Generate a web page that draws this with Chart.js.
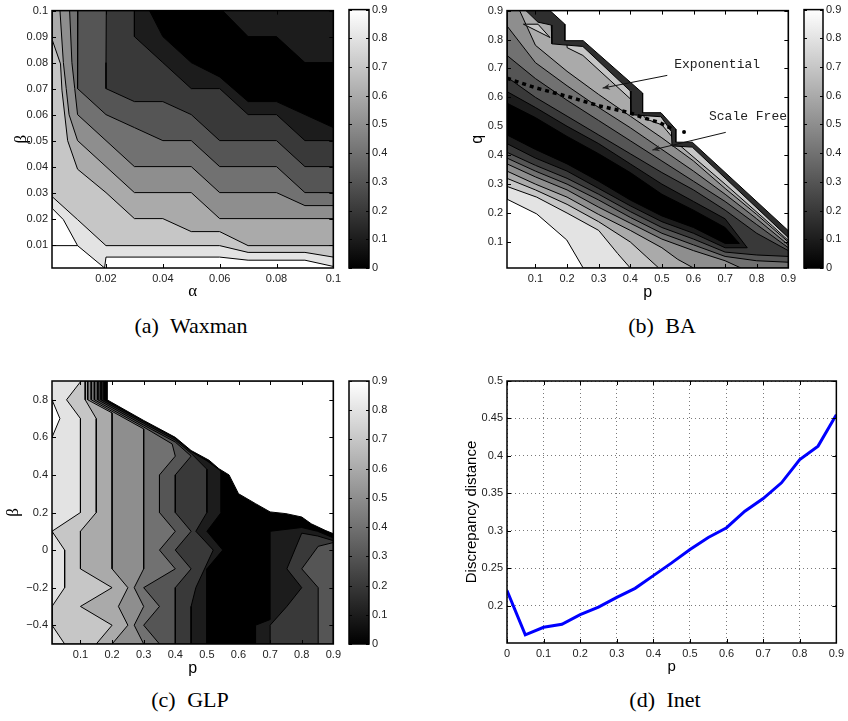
<!DOCTYPE html>
<html>
<head>
<meta charset="utf-8">
<title>Discrepancy contours</title>
<script src="https://cdn.jsdelivr.net/npm/chart.js@4.4.1/dist/chart.umd.min.js"></script>
<style>
body { margin: 0; background: #fff; }
#page { position: relative; width: 848px; height: 721px; overflow: hidden; background: #fff; }
canvas { position: absolute; }
.cap { position: absolute; font-family: "Liberation Serif", serif; font-size: 22px; color: #000; white-space: nowrap; transform: translate(-50%, -50%); word-spacing: 6px; }
</style>
</head>
<body>
<div id="page">
  <canvas id="wax" width="345" height="302" style="left:0px;top:0px"></canvas>
  <canvas id="waxBar" width="60" height="302" style="left:340px;top:0px"></canvas>
  <canvas id="ba" width="360" height="302" style="left:440px;top:0px"></canvas>
  <canvas id="baBar" width="60" height="302" style="left:795px;top:0px"></canvas>
  <canvas id="glp" width="345" height="308" style="left:0px;top:370px"></canvas>
  <canvas id="glpBar" width="60" height="308" style="left:340px;top:370px"></canvas>
  <canvas id="inet" width="408" height="306" style="left:440px;top:370px"></canvas>
  <div class="cap" style="left:191px;top:326px">(a) Waxman</div>
  <div class="cap" style="left:662px;top:326px">(b) BA</div>
  <div class="cap" style="left:190px;top:700px">(c) GLP</div>
  <div class="cap" style="left:665px;top:700px">(d) Inet</div>
</div>
<script>
// ---------- data ----------
var CBAR_TICKS = [0, 0.1, 0.2, 0.3, 0.4, 0.5, 0.6, 0.7, 0.8, 0.9];

// (a) Waxman : alpha / beta, contour lines (lightest first)
var WAX_X_TICKS = [0.02, 0.04, 0.06, 0.08, 0.1];
var WAX_Y_TICKS = [0.01, 0.02, 0.03, 0.04, 0.05, 0.06, 0.07, 0.08, 0.09, 0.1];
var wax_c09 = [[0.001,0.024],[0.005,0.0196],[0.01,0.0096],[0.0195,0.001],[0.02,0.0052],[0.06,0.0052],[0.07,0.004],[0.09,0.004],[0.1,0.0016]];
var wax_c08 = [[0.001,0.0285],[0.01,0.0196],[0.02,0.0096],[0.06,0.0096],[0.07,0.007],[0.09,0.007],[0.1,0.0052]];
var wax_c07 = [[0.001,0.089],[0.004,0.0795],[0.0045,0.0694],[0.0065,0.05],[0.01,0.039],[0.02,0.03],[0.03,0.02],[0.04,0.02],[0.05,0.015],[0.06,0.015],[0.07,0.0096],[0.1,0.0096]];
var wax_c06 = [[0.0038,0.1],[0.005,0.08],[0.006,0.07],[0.007,0.06],[0.01,0.05],[0.02,0.04],[0.03,0.03],[0.05,0.03],[0.06,0.02],[0.1,0.02]];
var wax_c05 = [[0.0072,0.1],[0.008,0.08],[0.009,0.07],[0.01,0.06],[0.02,0.05],[0.03,0.04],[0.05,0.04],[0.06,0.03],[0.08,0.03],[0.09,0.025],[0.1,0.025]];
var wax_c04 = [[0.0101,0.1],[0.01,0.08],[0.01,0.07],[0.02,0.06],[0.03,0.055],[0.04,0.05],[0.05,0.05],[0.06,0.04],[0.08,0.04],[0.09,0.03],[0.1,0.03]];
var wax_c03 = [[0.0201,0.1],[0.02,0.08],[0.02,0.07],[0.03,0.065],[0.04,0.065],[0.05,0.06],[0.06,0.05],[0.08,0.05],[0.09,0.04],[0.1,0.04]];
var wax_c02 = [[0.03,0.1],[0.03,0.09],[0.04,0.08],[0.05,0.07],[0.06,0.07],[0.07,0.06],[0.08,0.06],[0.09,0.05],[0.1,0.05]];
var wax_c01 = [[0.0353,0.1],[0.04,0.09],[0.05,0.08],[0.06,0.0745],[0.07,0.065],[0.08,0.065],[0.09,0.06],[0.1,0.055]];
var wax_c01b = [[0.061,0.1],[0.07,0.09],[0.08,0.09],[0.09,0.08],[0.1,0.08]];
var wax_step = [[0.001,0.0096],[0.01,0.0096]];
var WAX_LINES = [wax_c09, wax_c08, wax_c07, wax_c06, wax_c05, wax_c04, wax_c03, wax_c02, wax_c01, wax_c01b];
var WAX_FILL = [0.8, 0.7, 0.6, 0.5, 0.4, 0.3, 0.2, 0.1, 0, 0.1];

// (b) BA : p / q
var BA_TICKS = [0.1, 0.2, 0.3, 0.4, 0.5, 0.6, 0.7, 0.8, 0.9];
var ba_lo09 = [[0.01,0.248],[0.104,0.197],[0.199,0.107],[0.251,0.01]];
var ba_lo08 = [[0.01,0.292],[0.104,0.255],[0.2,0.2],[0.3,0.14],[0.36,0.06],[0.4,0.01]];
var ba_lo07 = [[0.01,0.32],[0.1,0.28],[0.2,0.23],[0.3,0.17],[0.4,0.1],[0.45,0.05],[0.49,0.01]];
var ba_up07 = [[0.2,0.772],[0.25,0.745],[0.4,0.595],[0.45,0.525],[0.5,0.505],[0.55,0.44],[0.7,0.3],[0.85,0.155],[0.9,0.105]];
var ba_lo06 = [[0.01,0.345],[0.1,0.3],[0.2,0.255],[0.3,0.195],[0.4,0.14],[0.5,0.08],[0.55,0.04],[0.6,0.01]];
var ba_up06 = [[0.05,0.9],[0.1,0.78],[0.2,0.69],[0.3,0.61],[0.4,0.535],[0.5,0.46],[0.6,0.38],[0.7,0.285],[0.8,0.195],[0.9,0.1]];
var ba_lo05 = [[0.01,0.37],[0.1,0.325],[0.2,0.28],[0.3,0.22],[0.4,0.165],[0.5,0.11],[0.6,0.07],[0.7,0.035],[0.75,0.01]];
var ba_up05 = [[0.01,0.847],[0.1,0.72],[0.2,0.64],[0.3,0.565],[0.4,0.495],[0.5,0.42],[0.6,0.345],[0.7,0.265],[0.8,0.18],[0.9,0.09]];
var ba_lo04 = [[0.01,0.39],[0.1,0.345],[0.2,0.3],[0.3,0.245],[0.4,0.185],[0.5,0.13],[0.6,0.09],[0.7,0.05],[0.8,0.035],[0.9,0.03]];
var ba_up04 = [[0.01,0.745],[0.1,0.665],[0.2,0.59],[0.3,0.52],[0.4,0.45],[0.5,0.38],[0.6,0.31],[0.7,0.24],[0.8,0.16],[0.9,0.08]];
var ba_lo03 = [[0.01,0.41],[0.1,0.365],[0.2,0.32],[0.3,0.265],[0.4,0.205],[0.5,0.15],[0.6,0.11],[0.7,0.065],[0.8,0.055],[0.9,0.05]];
var ba_up03 = [[0.01,0.67],[0.1,0.6],[0.2,0.535],[0.3,0.47],[0.4,0.405],[0.5,0.34],[0.6,0.28],[0.7,0.21],[0.8,0.13],[0.9,0.07]];
var ba_lo02 = [[0.01,0.44],[0.1,0.39],[0.2,0.345],[0.3,0.285],[0.4,0.225],[0.5,0.17],[0.6,0.13],[0.7,0.08],[0.77,0.08]];
var ba_up02 = [[0.01,0.62],[0.1,0.565],[0.2,0.5],[0.3,0.44],[0.4,0.37],[0.5,0.3],[0.6,0.24],[0.7,0.18],[0.77,0.08]];
var ba_lo01 = [[0.01,0.47],[0.1,0.42],[0.2,0.37],[0.3,0.31],[0.4,0.245],[0.5,0.19],[0.6,0.15],[0.7,0.095],[0.745,0.095]];
var ba_up01 = [[0.01,0.58],[0.1,0.53],[0.2,0.465],[0.3,0.405],[0.4,0.34],[0.5,0.265],[0.6,0.21],[0.7,0.15],[0.745,0.095]];
var ba_pocket = [[0.062,0.853],[0.108,0.853],[0.146,0.807]];
var ba_band = [[0.07,0.9],[0.108,0.86],[0.15,0.85],[0.152,0.785],[0.25,0.776],[0.4,0.622],[0.402,0.54],[0.497,0.533],[0.53,0.482],[0.532,0.432],[0.596,0.428],[0.9,0.115]];
var ba_edge = [[0.146,0.9],[0.193,0.853],[0.193,0.796],[0.251,0.796],[0.439,0.615],[0.439,0.547],[0.497,0.547],[0.544,0.49],[0.544,0.445],[0.596,0.445],[0.9,0.139]];
var ba_scalefree = [[0.01,0.666],[0.104,0.632],[0.199,0.604],[0.304,0.57],[0.398,0.547],[0.44,0.53],[0.492,0.513],[0.534,0.49]];
var ba_dot = [[0.57,0.48]];

// (c) GLP : p / beta, lines from top to bottom (left side lightest)
var GLP_X_TICKS = [0.1, 0.2, 0.3, 0.4, 0.5, 0.6, 0.7, 0.8, 0.9];
var GLP_Y_TICKS = [-0.4, -0.2, 0, 0.2, 0.4, 0.6, 0.8];
var glp_c08 = [[0.102,0.9],[0.056,0.8],[0.1,0.7],[0.1,0.2],[0.01,0.1]];
var glp_c07 = [[0.115,0.9],[0.115,0.8],[0.15,0.7],[0.15,0.2],[0.1,0.1],[0.1,-0.1],[0.2,-0.2],[0.1,-0.3],[0.2,-0.4],[0.15,-0.5]];
var glp_c06 = [[0.123,0.9],[0.123,0.8],[0.2,0.73],[0.2,-0.1],[0.25,-0.2],[0.22,-0.3],[0.25,-0.4],[0.2,-0.5]];
var glp_c05 = [[0.134,0.9],[0.134,0.8],[0.3,0.645],[0.3,-0.1],[0.27,-0.2],[0.3,-0.3],[0.27,-0.4],[0.3,-0.5]];
var glp_c04 = [[0.144,0.9],[0.144,0.8],[0.3,0.655],[0.39,0.565],[0.4,0.5],[0.35,0.4],[0.35,0.2],[0.4,0.1],[0.35,0],[0.4,-0.1],[0.3,-0.2],[0.35,-0.3],[0.3,-0.4],[0.35,-0.5]];
var glp_c03 = [[0.155,0.9],[0.155,0.8],[0.3,0.665],[0.4,0.575],[0.45,0.5],[0.4,0.4],[0.4,0.2],[0.45,0.1],[0.4,0],[0.45,-0.1],[0.4,-0.2],[0.4,-0.5]];
var glp_c02 = [[0.165,0.9],[0.165,0.8],[0.3,0.675],[0.4,0.585],[0.45,0.515],[0.5,0.43],[0.5,0.2],[0.465,0.1],[0.52,0],[0.465,-0.2],[0.45,-0.3],[0.45,-0.5]];
var glp_c01 = [[0.175,0.9],[0.175,0.8],[0.3,0.685],[0.4,0.595],[0.45,0.525],[0.5,0.475],[0.545,0.42],[0.545,0.2],[0.5,0.1],[0.55,0],[0.5,-0.1],[0.5,-0.5]];
var GLP_LINES = [glp_c08, glp_c07, glp_c06, glp_c05, glp_c04, glp_c03, glp_c02, glp_c01];
var GLP_FILL = [0.7, 0.6, 0.5, 0.4, 0.3, 0.2, 0.1, 0];
var glp_pocket1 = [[0.01,0.8],[0.035,0.7],[0.01,0.6]];
var glp_pocket2 = [[0.01,0.1],[0.05,0],[0.05,-0.2],[0.01,-0.3]];
var glp_pocket3 = [[0.01,-0.4],[0.05,-0.5],[0.01,-0.5]];
var glp_right1 = [[0.7,0.1],[0.8,0.12],[0.85,0.1],[0.9,0.065],[0.9,-0.5],[0.654,-0.5],[0.654,-0.4],[0.7,-0.37]];
var glp_right2 = [[0.8,0.09],[0.85,0.075],[0.9,0.05],[0.9,-0.5],[0.7,-0.5],[0.7,-0.4],[0.753,-0.3],[0.8,-0.2],[0.753,-0.1]];
var glp_right3 = [[0.852,0.02],[0.9,0.04],[0.9,-0.5],[0.852,-0.5],[0.852,-0.2],[0.8,-0.1]];
var glp_edge = [[0.184,0.9],[0.184,0.8],[0.3,0.69],[0.4,0.6],[0.45,0.53],[0.507,0.478],[0.538,0.433],[0.57,0.4],[0.6,0.3],[0.654,0.247],[0.7,0.203],[0.75,0.194],[0.8,0.176],[0.83,0.14],[0.874,0.105],[0.9,0.087]];

// (d) Inet
var INET_P = [0, 0.05, 0.1, 0.15, 0.2, 0.25, 0.3, 0.35, 0.4, 0.45, 0.5, 0.55, 0.6, 0.65, 0.7, 0.75, 0.8, 0.85, 0.9];
var INET_D = [0.22, 0.161, 0.171, 0.175, 0.188, 0.198, 0.211, 0.223, 0.24, 0.257, 0.275, 0.291, 0.304, 0.326, 0.343, 0.364, 0.395, 0.413, 0.455];
var INET_X_TICKS = [0, 0.1, 0.2, 0.3, 0.4, 0.5, 0.6, 0.7, 0.8, 0.9];
var INET_Y_TICKS = [0.2, 0.25, 0.3, 0.35, 0.4, 0.45, 0.5];

// ---------- helpers ----------
Chart.defaults.font.family = '"Liberation Sans", Arial, sans-serif';
Chart.defaults.color = '#222';

function gray(level) {
    var v = Math.round(255 * level / 0.9);
    return 'rgb(' + v + ',' + v + ',' + v + ')';
}
function pts(a) {
    return a.map(function (p) { return {x: p[0], y: p[1]}; });
}
function rev(a) { return a.slice().reverse(); }

function shape(poly, color, lw) {
    return {
        data: pts(poly.concat([poly[0]])),
        showLine: true, fill: 'shape',
        backgroundColor: typeof color === 'number' ? gray(color) : color,
        borderColor: '#000', borderWidth: lw === undefined ? 1 : lw,
        pointRadius: 0
    };
}
function stroke(line) {
    return {data: pts(line), showLine: true, fill: false, borderColor: '#000', borderWidth: 1, pointRadius: 0};
}
function fmt(v) {
    var s = String(Math.round(v * 1000) / 1000);
    return v < 0 ? '\u2212' + s.slice(1) : s;
}

// black box and the small inward ticks of matlab axes
var framePlugin = {
    id: 'frame',
    afterDraw: function (chart, args, opts) {
        var ctx = chart.ctx, a = chart.chartArea, len = opts.tick || 0;
        ctx.save();
        ctx.strokeStyle = '#000';
        ctx.lineWidth = 1;
        ctx.beginPath();
        Object.keys(chart.scales).forEach(function (k) {
            var s = chart.scales[k];
            if (!s.options.display || !len) return;
            s.ticks.forEach(function (t) {
                var p = Math.round(s.getPixelForValue(t.value)) + 0.5;
                if (s.isHorizontal()) {
                    ctx.moveTo(p, a.bottom); ctx.lineTo(p, a.bottom - len);
                    ctx.moveTo(p, a.top); ctx.lineTo(p, a.top + len);
                } else {
                    ctx.moveTo(a.left, p); ctx.lineTo(a.left + len, p);
                    ctx.moveTo(a.right, p); ctx.lineTo(a.right - len, p);
                }
            });
        });
        ctx.stroke();
        ctx.lineWidth = 1.5;
        ctx.strokeRect(a.left, a.top, a.right - a.left, a.bottom - a.top);
        ctx.restore();
    }
};

function scaleOpts(s, horizontal) {
    return {
        type: 'linear', min: s.min, max: s.max,
        grid: {display: !!s.grid, drawTicks: false, color: '#7a7a7a', lineWidth: 1},
        border: {display: false, dash: [1, 3]},
        ticks: {padding: 4, font: {size: 11}, color: '#222', maxRotation: 0, autoSkip: false, callback: fmt},
        title: {display: true, text: s.title, font: s.font, color: '#000', padding: s.tpad},
        afterBuildTicks: function (scale) {
            scale.ticks = s.ticks.map(function (v) { return {value: v}; });
        },
        afterFit: function (scale) {
            if (horizontal) scale.height = s.size; else scale.width = s.size;
        }
    };
}

function plotChart(id, datasets, cfg, extra) {
    return new Chart(document.getElementById(id), {
        type: 'scatter',
        // first dataset is drawn last, so hand them over in reverse paint order
        data: {datasets: datasets.slice().reverse()},
        options: {
            responsive: false, animation: false, events: [],
            layout: {padding: cfg.pad},
            plugins: {legend: {display: false}, tooltip: {enabled: false}, frame: {tick: 4}},
            scales: {x: scaleOpts(cfg.x, true), y: scaleOpts(cfg.y, false)}
        },
        plugins: [framePlugin].concat(extra || [])
    });
}

function ramp(c) {
    var a = c.chart.chartArea;
    if (!a) return '#808080';
    var g = c.chart.ctx.createLinearGradient(0, a.bottom, 0, a.top);
    g.addColorStop(0, '#000');
    g.addColorStop(1, '#fff');
    return g;
}

function colorBar(id, pad, width) {
    return new Chart(document.getElementById(id), {
        type: 'bar',
        data: {labels: [''], datasets: [{data: [CBAR_TICKS[CBAR_TICKS.length - 1]], backgroundColor: ramp, barPercentage: 1, categoryPercentage: 1, borderWidth: 0}]},
        options: {
            responsive: false, animation: false, events: [],
            layout: {padding: pad},
            plugins: {legend: {display: false}, tooltip: {enabled: false}, frame: {tick: 3}},
            scales: {
                x: {display: false},
                y: {
                    position: 'right', min: 0, max: 0.9,
                    grid: {display: false, drawTicks: false}, border: {display: false},
                    ticks: {padding: 3, font: {size: 11}, color: '#222', callback: fmt},
                    afterBuildTicks: function (scale) {
                        scale.ticks = CBAR_TICKS.map(function (v) { return {value: v}; });
                    },
                    afterFit: function (scale) { scale.width = width; }
                }
            }
        },
        plugins: [framePlugin]
    });
}

var greek = {family: '"Liberation Serif", serif', size: 17};
var latin = {family: '"Liberation Sans", Arial, sans-serif', size: 16};

// ---------- (a) Waxman ----------
var waxSets = WAX_LINES.map(function (line, i) {
    var poly = line.concat([[0.1, 0.1]]);
    if (line[0][0] === 0.001) poly.push([0.001, 0.1]);
    return shape(poly, WAX_FILL[i]);
});
waxSets.push(stroke(wax_step));
plotChart('wax', waxSets, {
    pad: {left: 0, right: 10, top: 6, bottom: 0},
    x: {min: 0.001, max: 0.1, ticks: WAX_X_TICKS, title: '\u03b1', font: greek, tpad: {top: 0, bottom: 0}, size: 34},
    y: {min: 0.001, max: 0.1, ticks: WAX_Y_TICKS, title: '\u03b2', font: greek, tpad: {top: 11, bottom: 0}, size: 52}
});
colorBar('waxBar', {left: 9, right: 0, top: 6, bottom: 34}, 31);

// ---------- (b) BA ----------
var BA_CORNERS = [[0.9, 0.01], [0.9, 0.9], [0.01, 0.9]];
var baSets = [
    shape(ba_lo09.concat(BA_CORNERS), 0.8),
    shape(ba_lo08.concat(BA_CORNERS), 0.7),
    shape(ba_lo07.concat([[0.9, 0.01]], rev(ba_up07), [[0.2, 0.9], [0.01, 0.9]]), 0.6),
    shape(ba_lo06.concat([[0.9, 0.01]], rev(ba_up06), [[0.01, 0.9]]), 0.5),
    shape(ba_lo05.concat([[0.9, 0.01]], rev(ba_up05)), 0.4),
    shape(ba_lo04.concat(rev(ba_up04)), 0.3),
    shape(ba_lo03.concat(rev(ba_up03)), 0.2),
    shape(ba_lo02.concat(rev(ba_up02)), 0.1),
    shape(ba_lo01.concat(rev(ba_up01)), 0),
    shape(ba_pocket, 0.7),
    shape(ba_band.concat([[0.9, 0.9]]), '#2e2e2e'),
    shape(ba_edge.concat([[0.9, 0.9]]), '#fff'),
    {data: pts(ba_scalefree), showLine: true, fill: false, borderColor: '#000', borderWidth: 3.5, borderDash: [4, 4], pointRadius: 0},
    {data: pts(ba_dot), showLine: false, pointRadius: 2, pointBackgroundColor: '#000', pointBorderWidth: 0}
];

// text and arrows of panel (b)
var baNotes = {
    id: 'baNotes',
    afterDatasetsDraw: function (chart) {
        var xs = chart.scales.x, ys = chart.scales.y, ctx = chart.ctx;
        var labels = [['Exponential', 0.539, 0.712], ['Scale Free', 0.649, 0.535]];
        var arrows = [[0.517, 0.676, 0.3125, 0.632], [0.702, 0.479, 0.47, 0.418]];
        ctx.save();
        ctx.font = '13px "Liberation Mono", monospace';
        ctx.fillStyle = '#222';
        ctx.strokeStyle = '#111';
        ctx.lineWidth = 1;
        ctx.textBaseline = 'middle';
        labels.forEach(function (l) {
            ctx.fillText(l[0], xs.getPixelForValue(l[1]), ys.getPixelForValue(l[2]));
        });
        arrows.forEach(function (a) {
            var x0 = xs.getPixelForValue(a[0]), y0 = ys.getPixelForValue(a[1]);
            var x1 = xs.getPixelForValue(a[2]), y1 = ys.getPixelForValue(a[3]);
            var ang = Math.atan2(y1 - y0, x1 - x0);
            ctx.beginPath(); ctx.moveTo(x0, y0); ctx.lineTo(x1, y1); ctx.stroke();
            ctx.beginPath();
            ctx.moveTo(x1, y1);
            ctx.lineTo(x1 - 8 * Math.cos(ang - 0.4), y1 - 8 * Math.sin(ang - 0.4));
            ctx.lineTo(x1 - 5 * Math.cos(ang), y1 - 5 * Math.sin(ang));
            ctx.lineTo(x1 - 8 * Math.cos(ang + 0.4), y1 - 8 * Math.sin(ang + 0.4));
            ctx.closePath();
            ctx.fill();
        });
        ctx.restore();
    }
};
plotChart('ba', baSets, {
    pad: {left: 0, right: 10, top: 6, bottom: 0},
    x: {min: 0.01, max: 0.9, ticks: BA_TICKS, title: 'p', font: latin, tpad: {top: 0, bottom: 0}, size: 34},
    y: {min: 0.01, max: 0.9, ticks: BA_TICKS, title: 'q', font: latin, tpad: {top: 28, bottom: 0}, size: 67}
}, [baNotes]);
colorBar('baBar', {left: 9, right: 0, top: 6, bottom: 34}, 32);

// ---------- (c) GLP ----------
var glpSets = [shape([[0.01, -0.5], [0.9, -0.5], [0.9, 0.9], [0.01, 0.9]], 0.8, 0)];
GLP_LINES.forEach(function (line, i) {
    var last = line[line.length - 1], poly = line.slice();
    if (last[0] === 0.01) poly.push([0.01, -0.5]);
    poly.push([0.9, -0.5], [0.9, 0.9]);
    glpSets.push(shape(poly, GLP_FILL[i]));
    if (i === 0) {
        glpSets.push(shape(glp_pocket1, 0.9));
        glpSets.push(shape(glp_pocket2, 0.8));
        glpSets.push(shape(glp_pocket3, 0.8));
    }
});
glpSets.push(shape(glp_right1, 0.1));
glpSets.push(shape(glp_right2, 0.2));
glpSets.push(shape(glp_right3, 0.3));
glpSets.push(shape(glp_edge.concat([[0.9, 0.9]]), '#fff'));
plotChart('glp', glpSets, {
    pad: {left: 0, right: 10, top: 11, bottom: 0},
    x: {min: 0.01, max: 0.9, ticks: GLP_X_TICKS, title: 'p', font: latin, tpad: {top: 0, bottom: 0}, size: 34},
    y: {min: -0.5, max: 0.9, ticks: GLP_Y_TICKS, title: '\u03b2', font: greek, tpad: {top: 3, bottom: 0}, size: 52}
});
colorBar('glpBar', {left: 9, right: 0, top: 11, bottom: 34}, 31);

// ---------- (d) Inet ----------
var inetSets = [{
    data: INET_P.map(function (p, i) { return {x: p, y: INET_D[i]}; }),
    showLine: true, fill: false, borderColor: '#0000ff', borderWidth: 3, pointRadius: 0
}];
plotChart('inet', inetSets, {
    pad: {left: 0, right: 8, top: 11, bottom: 0},
    x: {min: 0, max: 0.9, ticks: INET_X_TICKS, title: 'p', font: {size: 15}, tpad: {top: 0, bottom: 0}, size: 33, grid: true},
    y: {min: 0.15, max: 0.5, ticks: INET_Y_TICKS, title: 'Discrepancy distance', font: {size: 15}, tpad: {top: 23, bottom: 0}, size: 67, grid: true}
});
</script>
</body>
</html>
